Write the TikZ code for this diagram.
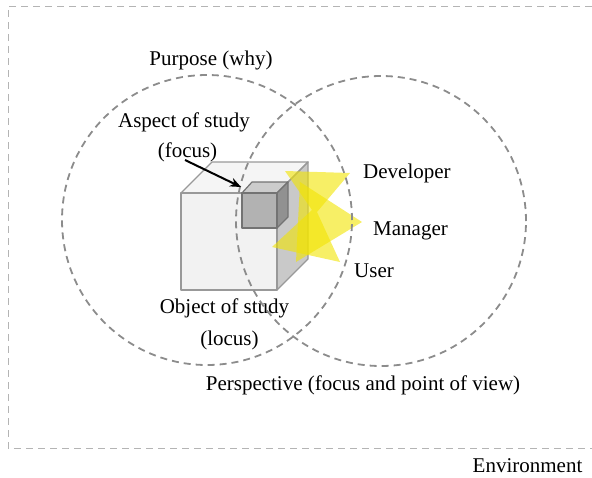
\documentclass[tikz,border=0pt]{standalone}
\usepackage{fontspec}
\setmainfont{Liberation Serif}
\usetikzlibrary{arrows.meta}
\definecolor{envgray}{HTML}{B4B4B4}
\definecolor{ringgray}{HTML}{8C8C8C}
\definecolor{beam}{HTML}{F2E400}
\tikzset{
  label text/.style={inner sep=0pt, font=\fontsize{21}{25}\selectfont},
  ring/.style={circle, draw=ringgray, line width=1.8pt, dash pattern=on 7pt off 5pt, minimum size=290pt, inner sep=0pt},
  envline/.style={draw=envgray, line width=1pt, dash pattern=on 7pt off 5pt},
  bigface/.style={draw=black!40, line width=1.4pt, line join=round},
  smallface/.style={draw=black!55, line width=1.2pt, line join=round},
  beamshape/.style={fill=beam, fill opacity=0.6, draw=none},
  pointer/.style={draw=black, line width=2pt, -{Stealth[length=11pt, width=9pt]}}
}
\begin{document}
\begin{tikzpicture}[x=1pt, y=-1pt]
\useasboundingbox (0,0) rectangle (592,477);

% environment frame, open on the right
\coordinate (envtop) at (592,6);
\coordinate (envbot) at (592,448);
\draw[envline] (envtop) -| (8,448) -- (envbot);

% object of study: large cube
\fill[black!4] (181,193) -- (212,162) -- (308,162) -- (277,193) -- cycle;
\filldraw[bigface, fill=black!21] (277,193) -- (308,162) -- (308,259) -- (277,290) -- cycle;
\filldraw[bigface, fill=black!5] (181,193) rectangle (277,290);
\draw[bigface] (181,193) -- (212,162) -- (308,162) -- (277,193);

% aspect of study: small cube
\filldraw[smallface, fill=black!20] (242,193) -- (252,182) -- (288,182) -- (277,193) -- cycle;
\filldraw[smallface, fill=black!43] (277,193) -- (288,182) -- (288,217) -- (277,228) -- cycle;
\filldraw[smallface, fill=black!30] (242,193) rectangle (277,228);

% viewpoints
\fill[beamshape] (285,171) -- (350,173) -- (317,212) -- (340,262) -- (272,247) -- (312,210) -- cycle;
\fill[beamshape] (362,222) -- (300,182) -- (296,262) -- cycle;

% purpose and perspective
\node[ring] (purpose) at (207,220) {};
\node[ring] (perspective) at (381,221) {};

% labels
\node[label text, anchor=base] (purposelbl) at (211,65) {Purpose (why)};
\node[label text, anchor=base] (aspect) at (184,127) {Aspect of study};
\node[label text, anchor=base] (focus) at (187.5,157) {(focus)};
\node[label text, anchor=base west] (dev) at (363,178) {Developer};
\node[label text, anchor=base west] (man) at (373,235) {Manager};
\node[label text, anchor=base west] (usr) at (354,277) {User};
\node[label text, anchor=base] (object) at (224.5,313) {Object of study};
\node[label text, anchor=base] (locus) at (229.5,345) {(locus)};
\node[label text, anchor=base] (persplbl) at (363,390) {Perspective (focus and point of view)};
\node[label text, anchor=base] (env) at (527.5,472) {Environment};

% pointer to the aspect of study
\coordinate (pointerstart) at (185,160);
\coordinate (pointerend) at (241,187);
\draw[pointer] (pointerstart) -- (pointerend);
\end{tikzpicture}
\end{document}
